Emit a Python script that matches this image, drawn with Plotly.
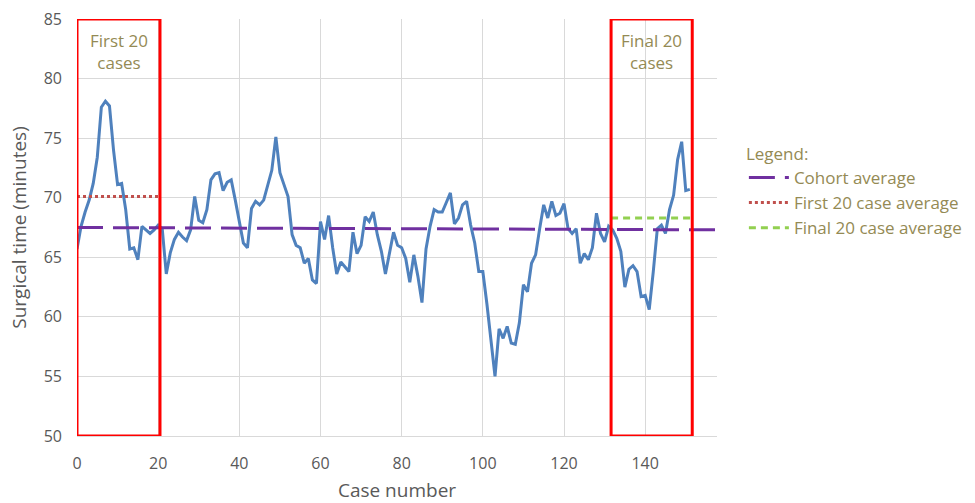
import plotly.graph_objects as go

# ---- data ----
case_values = [
    65.7, 67.6, 68.8, 69.8, 71.2, 73.4, 77.6, 78.1, 77.7, 74.0,
    71.1, 71.2, 69.0, 65.7, 65.8, 64.8, 67.6, 67.3, 67.0, 67.3,
    67.7, 67.4, 63.6, 65.4, 66.5, 67.1, 66.7, 66.4, 67.3, 70.1,
    68.1, 67.9, 69.0, 71.5, 72.0, 72.1, 70.6, 71.3, 71.5, 69.8,
    68.1, 66.2, 65.8, 69.1, 69.7, 69.4, 69.8, 71.1, 72.3, 75.1,
    72.1, 71.1, 70.1, 66.9, 66.0, 65.8, 64.5, 64.9, 63.1, 62.8,
    68.0, 66.5, 68.5, 65.8, 63.6, 64.6, 64.2, 63.8, 67.1, 65.3,
    66.0, 68.4, 68.0, 68.8, 66.9, 65.5, 63.6, 65.5, 67.1, 66.0,
    65.8, 64.9, 62.9, 65.2, 63.4, 61.2, 65.7, 67.6, 69.0, 68.8,
    68.8, 69.6, 70.4, 67.8, 68.3, 69.4, 69.7, 67.7, 66.2, 63.8,
    63.8, 61.1, 58.3, 55.0, 59.0, 58.2, 59.2, 57.8, 57.7, 59.5,
    62.7, 62.1, 64.5, 65.2, 67.4, 69.4, 68.3, 69.7, 68.5, 68.7,
    69.5, 67.4, 67.0, 67.4, 64.5, 65.3, 64.8, 65.8, 68.7, 67.0,
    66.3, 67.6, 67.3, 66.6, 65.5, 62.5, 64.0, 64.3, 63.8, 61.7,
    61.8, 60.6, 63.8, 67.4, 67.7, 67.0, 69.0, 70.2, 73.2, 74.7,
    70.6, 70.7,
]
case_numbers = list(range(len(case_values)))

cohort_x = [0, 157.7]
cohort_y = [67.5, 67.3]
first20_x = [0, 20.45]
first20_y = [70.1, 70.1]
final20_x = [131.6, 151.6]
final20_y = [68.3, 68.3]

first_box = [0, 20.45]
final_box = [131.6, 151.6]

x_ticks = [0, 20, 40, 60, 80, 100, 120, 140]
y_ticks = [50, 55, 60, 65, 70, 75, 80, 85]

FONT = "Open Sans"
OLIVE = "#948A54"
GREY = "#595959"

fig = go.Figure()

fig.add_trace(go.Scatter(x=case_numbers, y=case_values, mode="lines",
                         line=dict(color="#4F81BD", width=3),
                         showlegend=False, hoverinfo="x+y"))
fig.add_trace(go.Scatter(x=cohort_x, y=cohort_y, mode="lines", name="Cohort average",
                         line=dict(color="#7030A0", width=3, dash="26px,10px")))
fig.add_trace(go.Scatter(x=first20_x, y=first20_y, mode="lines", name="First 20 case average",
                         line=dict(color="#C0504D", width=3, dash="3px,3px")))
fig.add_trace(go.Scatter(x=final20_x, y=final20_y, mode="lines", name="Final 20 case average",
                         line=dict(color="#92D050", width=3, dash="7px,5px")))

for bx in (first_box, final_box):
    fig.add_shape(type="rect", xref="x", yref="y", x0=bx[0], x1=bx[1], y0=50, y1=85,
                  line=dict(color="#FF0000", width=3), layer="above")

fig.add_annotation(x=(first_box[0] + first_box[1]) / 2, y=85, xref="x", yref="y",
                   text="First 20<br>cases", showarrow=False, yanchor="top", yshift=-8,
                   font=dict(family=FONT, size=17, color=OLIVE))
fig.add_annotation(x=(final_box[0] + final_box[1]) / 2, y=85, xref="x", yref="y",
                   text="Final 20<br>cases", showarrow=False, yanchor="top", yshift=-8,
                   font=dict(family=FONT, size=17, color=OLIVE))

fig.update_layout(
    width=975, height=503,
    margin=dict(l=77, r=258, t=19, b=67, autoexpand=False),
    paper_bgcolor="white", plot_bgcolor="white",
    font=dict(family=FONT, size=16, color=GREY),
    legend=dict(x=1.042, y=0.715, xanchor="left", yanchor="top",
                title=dict(text="Legend:", font=dict(family=FONT, size=17, color=OLIVE)),
                font=dict(family=FONT, size=17, color=OLIVE),
                bgcolor="rgba(0,0,0,0)", itemwidth=40, tracegroupgap=0),
    xaxis=dict(range=[0, 157.7], tickvals=x_ticks, showgrid=True, gridcolor="#D9D9D9",
               gridwidth=1, zeroline=False, showline=True, linecolor="#D9D9D9",
               ticks="", ticklabelstandoff=13, automargin=False,
               title=dict(text="Case number", font=dict(size=19, color=GREY), standoff=10),
               tickfont=dict(size=16, color=GREY)),
    yaxis=dict(range=[50, 85], tickvals=y_ticks, showgrid=True, gridcolor="#D9D9D9",
               gridwidth=1, zeroline=False, showline=False, ticks="",
               ticklabelstandoff=14, automargin=False,
               title=dict(text="Surgical time (minutes)", font=dict(size=19, color=GREY),
                          standoff=12),
               tickfont=dict(size=16, color=GREY)),
)

fig.write_html("out.html")
